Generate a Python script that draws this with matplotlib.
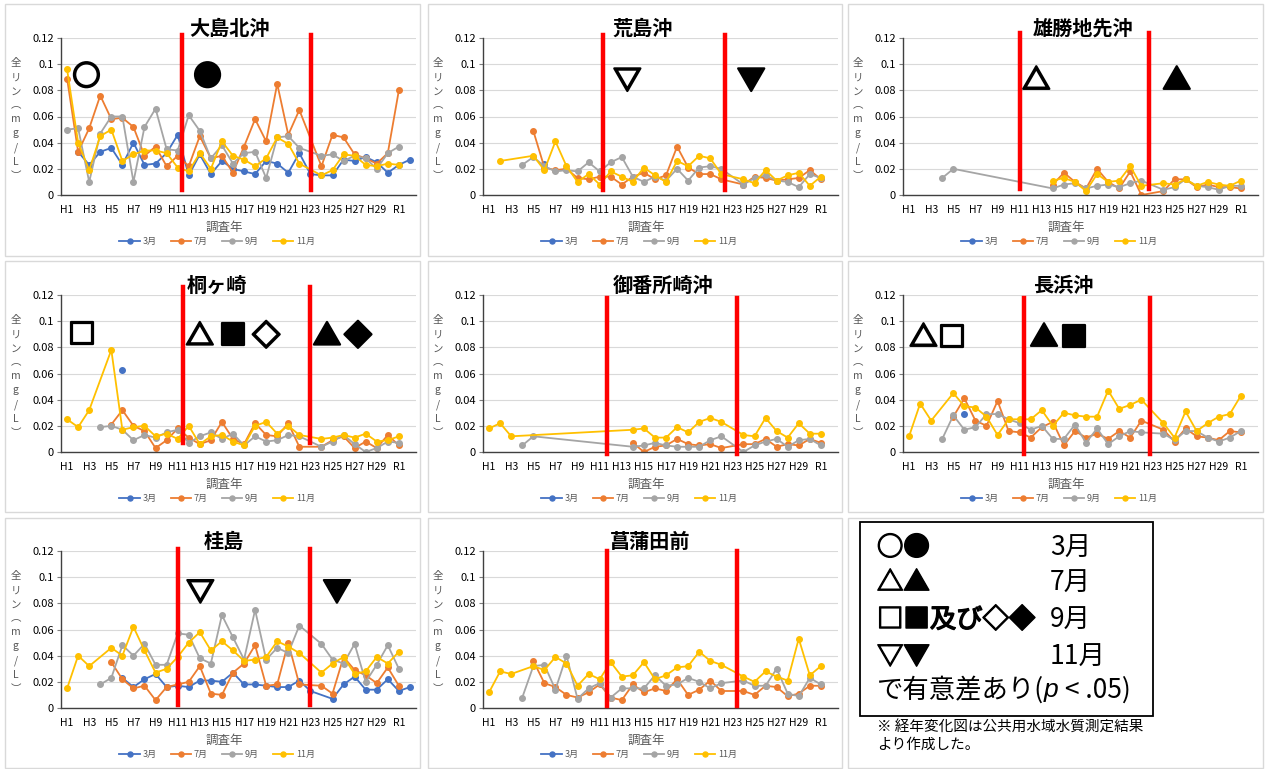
import numpy as np
import matplotlib
matplotlib.use('Agg')
import matplotlib.pyplot as plt
import matplotlib.patheffects as pe
from matplotlib.patches import Rectangle

plt.rcParams['font.family'] = ['Noto Sans CJK JP', 'DejaVu Sans']

N = None

# survey years: H1..H30, R1, R2
years = ['H%d' % i for i in range(1, 31)] + ['R1', 'R2']
months = ['3月', '7月', '9月', '11月']
colors = ['#4472C4', '#ED7D31', '#A5A5A5', '#FFC000']

# 大島北沖
oshima_mar = [N, .033, .023, .033, .036, .023, .040, .023, .024, .032, .046, .015, .031, .016, .026, .020,
              .018, .016, .026, .024, .017, .032, .016, .015, .015, .027, .026, .029, .025, .017, .023, .027]
oshima_jul = [.089, .033, .051, .076, .058, .059, .052, .030, .037, .022, .030, .022, .045, .028, .030, .017,
              .037, .058, .041, .085, .046, .065, N, .022, .046, .044, .031, .028, .024, .032, .080, N]
oshima_sep = [.050, .051, .010, .047, .060, .060, .010, .052, .066, .035, .034, .061, .049, .028, .038, .024,
              .032, .033, .013, .044, .045, .036, N, .030, .031, .026, .030, .028, .020, .032, .037, N]
oshima_nov = [.096, .040, .019, .045, .050, .026, .031, .034, .034, .032, .021, .018, .032, .020, .041, .030,
              .027, .022, .028, .044, .039, .024, N, .015, .019, .031, .030, .023, .022, .024, .023, N]

# 荒島沖
arashima_mar = [N] * 5 + [.024] + [N] * 26
arashima_jul = [N, N, N, N, .049, .021, .019, .020, .013, .012, .014, .014, .008, .014, .017, .012,
                .015, .037, .021, .016, .016, .012, N, .008, .014, .013, .011, .012, .013, .019, .012, N]
arashima_sep = [N, N, N, .023, .029, .022, .018, .019, .018, .025, .018, .025, .029, .014, .010, .014,
                .011, .020, .011, .021, .022, .020, N, .008, .013, .015, .011, .010, .006, .016, .013, N]
arashima_nov = [N, .026, N, N, .030, .019, .041, .022, .010, .016, .008, .018, .014, .010, .021, .015,
                .010, .026, .022, .030, .028, .016, N, .012, .009, .019, .011, .015, .017, .007, .014, N]

# 雄勝地先沖
ogatsu_mar = [N] * 32
ogatsu_jul = [N] * 13 + [.008, .017, .010, .005, .020, .010, .005, .018, .000, N,
                         .003, .012, .012, .006, .008, .006, .006, .005, N]
ogatsu_sep = [N, N, N, .013, .020] + [N] * 8 + [.005, .008, .009, .005, .007, .008, .006, .009, .011, N,
                                                .004, .006, .012, .007, .006, .004, .007, .007, N]
ogatsu_nov = [N] * 13 + [.011, .013, .010, .003, .016, .010, .011, .022, .007, N,
                         .009, .008, .012, .007, .010, .008, .007, .011, N]

# 桐ヶ崎
kiri_mar = [N] * 5 + [.063] + [N] * 26
kiri_jul = [N, N, N, N, .021, .032, .020, .016, .003, .009, .018, .011, .006, .009, .023, .010,
            .006, .022, .013, .012, .022, .004, N, .004, .009, .012, .003, .008, .003, .013, .005, N]
kiri_sep = [N, N, N, .019, .020, .017, .009, .013, .011, .015, .017, .007, .012, .015, .010, .014,
            .005, .012, .008, .009, .013, .012, N, .004, .008, .013, .006, .000, .003, .008, .007, N]
kiri_nov = [.025, .019, .032, N, .078, .017, .019, .020, .012, .014, .010, .020, .006, .012, .013, .008,
            .005, .020, .023, .014, .020, .013, N, .010, .011, .013, .011, .014, .008, .009, .012, N]

# 御番所崎沖
goban_mar = [N] * 32
goban_jul = [N] * 13 + [.007, .000, .004, .005, .010, .006, .005, .006, .003, N,
                        .006, .006, .010, .004, .006, .005, .010, .007, N]
goban_sep = [N, N, N, .005, .012] + [N] * 8 + [.004, .005, .007, .005, .004, .004, .004, .009, .012, N,
                                               .000, .005, .008, .010, .004, .009, .010, .005, N]
goban_nov = [.018, .022, .012] + [N] * 10 + [.017, .018, .011, .011, .019, .015, .023, .026, .023, N,
                                             .013, .012, .026, .016, .011, .022, .014, .014, N]

# 長浜沖
naga_mar = [N] * 5 + [.029] + [N] * 26
naga_jul = [N, N, N, N, .027, .041, .024, .020, .039, .016, .015, .011, .019, .023, .005, .016,
            .011, .014, .010, .016, .011, .024, N, .017, .008, .018, .012, .011, .009, .016, .015, N]
naga_sep = [N, N, N, .010, .028, .017, .019, .029, .029, .025, .022, .017, .020, .010, .010, .021,
            .007, .018, .006, .012, .016, .015, N, .014, .009, .016, .016, .011, .008, .011, .016, N]
naga_nov = [.012, .037, .024, N, .045, .035, .034, .027, .013, .025, .025, .025, .032, .020, .030, .028,
            .027, .027, .047, .033, .036, .040, N, .022, .011, .031, .016, .022, .027, .029, .043, N]

# 桂島
katsura_mar = [N] * 5 + [.023, .016, .022, .026, .016, .017, .016, .021, .021, .020, .027, .018, .018,
                         .017, .016, .016, .021, .013, N, .007, .018, .024, .014, .014, .022, .013, .016]
katsura_jul = [N] * 4 + [.035, .022, .015, .017, .006, .016, .018, .020, .032, .011, .010, .027, .034,
                         .048, .017, .018, .050, .018, N, .017, .011, .039, .029, .025, .019, .031, .017, N]
katsura_sep = [N] * 3 + [.018, .023, .048, .040, .049, .033, .033, .057, .056, .038, .034, .071, .054,
                         .037, .075, .037, .046, .042, .063, N, .049, .037, .034, .049, .020, .033, .048,
                         .030, N]
katsura_nov = [.015, .040, .032, N, .046, .040, .062, .044, .027, .030, .039, .050, .058, .044, .051, .044,
               .036, .037, .039, .051, .047, .042, N, .027, .034, .039, .026, .028, .039, .034, .043, N]

# 菖蒲田前
shobu_mar = [N] * 32
shobu_jul = [N] * 4 + [.036, .019, .016, .010, .008, .012, .018, .008, .006, .018, .012, .015, .013,
                       .022, .010, .014, .021, .013, N, .013, .010, .017, .016, .009, .011, .017, .017, N]
shobu_sep = [N] * 3 + [.008, .032, .033, .014, .040, .007, .015, .019, .008, .015, .015, .015, .025,
                       .017, .018, .023, .020, .015, .019, N, .021, .017, .017, .030, .011, .009, .023,
                       .018, N]
shobu_nov = [.012, .028, .026, N, .032, .029, .039, .034, .017, .026, .022, .035, .024, .025, .035, .022,
             .025, .031, .032, .043, .036, .033, N, .024, .020, .028, .024, .021, .053, .025, .032, N]

titles = ['大島北沖', '荒島沖', '雄勝地先沖', '桐ヶ崎', '御番所崎沖', '長浜沖', '桂島', '菖蒲田前']
series = [
    [oshima_mar, oshima_jul, oshima_sep, oshima_nov],
    [arashima_mar, arashima_jul, arashima_sep, arashima_nov],
    [ogatsu_mar, ogatsu_jul, ogatsu_sep, ogatsu_nov],
    [kiri_mar, kiri_jul, kiri_sep, kiri_nov],
    [goban_mar, goban_jul, goban_sep, goban_nov],
    [naga_mar, naga_jul, naga_sep, naga_nov],
    [katsura_mar, katsura_jul, katsura_sep, katsura_nov],
    [shobu_mar, shobu_jul, shobu_sep, shobu_nov],
]

# period boundaries (category position) for each station
breaks = [(10.4, 22.1), (10.3, 21.3), (10.0, 21.7), (10.5, 22.0),
          (10.7, 22.4), (10.35, 21.8), (10.0, 22.0), (10.7, 22.4)]
break_span = [(0.03, 1.02), (0.03, 1.02), (0.04, 1.03), (0.06, 1.05),
              (-0.01, 0.98), (-0.01, 0.98), (0.02, 1.01), (0.01, 1.0)]

# significance marks: (symbol, category position, value)
marks = [
    [('○', 1.75, .090), ('●', 12.7, .090)],
    [('▽', 12.5, .087), ('▼', 23.7, .087)],
    [('△', 11.5, .087), ('▲', 24.2, .087)],
    [('□', 1.35, .089), ('△', 12.0, .088), ('■', 15.0, .088), ('◇', 18.0, .088),
     ('▲', 23.5, .088), ('◆', 26.3, .088)],
    [],
    [('△', 1.3, .087), ('□', 3.9, .087), ('▲', 12.2, .087), ('■', 14.9, .087)],
    [('▽', 12.05, .088), ('▼', 24.4, .088)],
    [],
]

W, H = 1266, 769
fig = plt.figure(figsize=(W / 100, H / 100), dpi=100)
thick = [pe.withStroke(linewidth=1.6, foreground='black')]


def fig_rect(x0, y0, x1, y1, **kw):
    r = Rectangle((x0 / W, 1 - y1 / H), (x1 - x0) / W, (y1 - y0) / H,
                  transform=fig.transFigure, fill=False, **kw)
    fig.patches.append(r)


# chart frames
col_frames = [(5, 420), (428, 842), (848, 1263)]
row_frames = [(4, 256), (261, 512), (518, 768)]
for (y0, y1) in row_frames:
    for (x0, x1) in col_frames:
        fig_rect(x0, y0, x1, y1, ec='#D9D9D9', lw=1)

col_left = [61, 483, 903]
row_top = [38, 295, 551]
title_dx = [168, 160, 180, 156, 180, 160, 163, 167]
aw, ah = 355, 157
x = np.arange(len(years))
ylab = '\n'.join(['全', 'リ', 'ン', '︵', 'm', 'g', '/', 'L', '︶'])

for i in range(8):
    l = col_left[i % 3]
    t = row_top[i // 3]
    ax = fig.add_axes([l / W, 1 - (t + ah) / H, aw / W, ah / H])
    for vals, c, lab in zip(series[i], colors, months):
        arr = np.array(vals, dtype=float)
        m = ~np.isnan(arr)
        ax.plot(x[m], arr[m], '-o', color=c, lw=1.3, ms=4, label=lab)

    ax.set_xlim(-0.55, 31.55)
    ax.set_ylim(0, 0.12)
    ax.set_yticks(np.arange(0, 0.121, 0.02))
    ax.set_yticklabels(['0', '0.02', '0.04', '0.06', '0.08', '0.1', '0.12'])
    ax.set_xticks(x[::2])
    ax.set_xticklabels(years[::2])
    ax.tick_params(axis='y', labelsize=8, length=3, color='#7F7F7F', pad=2)
    ax.tick_params(axis='x', labelsize=7.5, length=0, pad=7)
    ax.yaxis.grid(True, color='#D9D9D9', lw=0.8)
    ax.set_axisbelow(True)
    for s in ['top', 'right']:
        ax.spines[s].set_visible(False)
    for s in ['left', 'bottom']:
        ax.spines[s].set_color('#404040')
        ax.spines[s].set_linewidth(1)

    lo, hi = break_span[i]
    for b in breaks[i]:
        ax.axvline(b, ymin=lo, ymax=hi, color='#FF0000', lw=3.2, clip_on=False, zorder=5)

    for sym, px, py in marks[i]:
        ax.text(px, py, sym, fontsize=20, fontweight='bold', ha='center', va='center',
                zorder=6, path_effects=thick)

    fig.text((l + title_dx[i]) / W, 1 - (t - 10) / H, titles[i], fontsize=14.5,
             fontweight='bold', ha='center', va='center')
    ax.text(-0.127, 0.48, ylab, transform=ax.transAxes, ha='center', va='center',
            fontsize=7.5, color='#595959', linespacing=1.5)
    ax.text(0.46, -0.205, '調査年', transform=ax.transAxes, ha='center', va='center',
            fontsize=9, color='#595959')
    ax.legend(loc='center', bbox_to_anchor=(0.44, -0.295), ncol=4, frameon=False,
              fontsize=6.5, handlelength=2.3, columnspacing=1.5, handletextpad=0.3,
              labelcolor='#595959', markerscale=0.9)

# significance key
fig_rect(860, 522, 1153, 716, ec='black', lw=1.3)
key_syms = ['○●', '△▲', '□■及び◇◆', '▽▼']
key_rows = [548, 583, 620, 657]
for sym, mon, yy in zip(key_syms, months, key_rows):
    fig.text(877 / W, 1 - yy / H, sym, fontsize=19, va='center', ha='left',
             path_effects=[pe.withStroke(linewidth=1.0, foreground='black')])
    fig.text(1050 / W, 1 - yy / H, mon, fontsize=19, va='center', ha='left')

t1 = fig.text(877 / W, 1 - 690 / H, 'で有意差あり(', fontsize=19, va='center', ha='left')
fig.canvas.draw()
x1 = t1.get_window_extent().x1
t2 = fig.text(x1 / W, 1 - 690 / H, 'p', fontsize=19, va='center', ha='left',
              family='Liberation Sans', style='italic')
fig.canvas.draw()
x2 = t2.get_window_extent().x1
fig.text(x2 / W, 1 - 690 / H, ' < .05)', fontsize=19, va='center', ha='left')

fig.text(877 / W, 1 - 728 / H, '※ 経年変化図は公共用水域水質測定結果', fontsize=10.5, va='center', ha='left')
fig.text(877 / W, 1 - 745 / H, 'より作成した。', fontsize=10.5, va='center', ha='left')

fig.savefig('out.png', dpi=100)
